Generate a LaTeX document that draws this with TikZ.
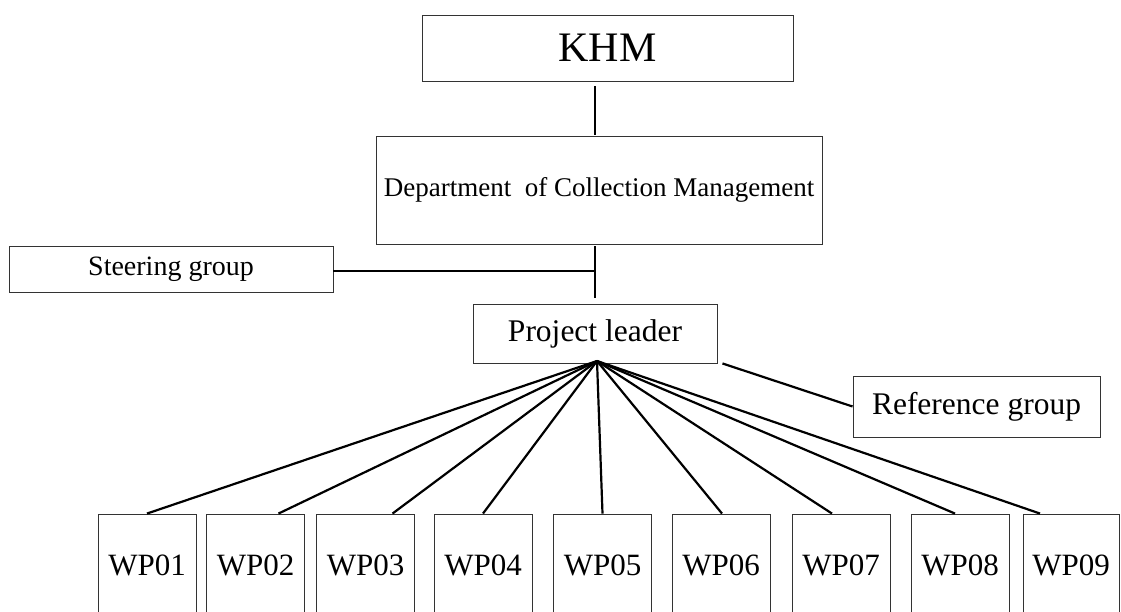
\documentclass[tikz,border=0pt]{standalone}
\usepackage{fontspec}
\setmainfont{Liberation Serif}
\begin{document}
\begin{tikzpicture}[x=1pt,y=-1pt,
  box/.style={draw=black!80,line width=0.9pt,inner sep=0pt,align=center},
  conn/.style={draw=black,line width=2.2pt},
  wpbox/.style={box,minimum width=98pt,minimum height=102pt,font=\fontsize{31}{34}\selectfont}]
\useasboundingbox (0,0) rectangle (1121,611);
\clip (0,0) rectangle (1121,611);
\node[box,minimum width=371pt,minimum height=66pt,font=\fontsize{42}{46}\selectfont] (khm) at (607.5,48) {KHM};
\node[box,minimum width=446pt,minimum height=108pt,font=\fontsize{27}{31}\selectfont] (dept) at (599,190) {Department\ \ of Collection Management};
\node[box,minimum width=324pt,minimum height=46pt,font=\fontsize{28}{31}\selectfont] (steer) at (171,269) {Steering group};
\node[box,minimum width=244pt,minimum height=59pt,font=\fontsize{31.5}{34}\selectfont] (pl) at (595,333.5) {Project leader};
\node[box,minimum width=247pt,minimum height=61pt,font=\fontsize{31.5}{34}\selectfont] (ref) at (976.5,406.5) {Reference group};
\node[wpbox] (wp1) at (147,565) {WP01};
\node[wpbox] (wp2) at (255.5,565) {WP02};
\node[wpbox] (wp3) at (365.5,565) {WP03};
\node[wpbox] (wp4) at (483,565) {WP04};
\node[wpbox] (wp5) at (602.5,565) {WP05};
\node[wpbox] (wp6) at (721,565) {WP06};
\node[wpbox] (wp7) at (841,565) {WP07};
\node[wpbox] (wp8) at (960,565) {WP08};
\node[wpbox,minimum width=96pt] (wp9) at (1071,565) {WP09};
\coordinate (sp) at (595,0);
\coordinate (hub) at (597,361);
\draw[conn] ([yshift=-5pt]khm.south -| sp) -- ([yshift=1pt]dept.north -| sp);
\draw[conn] ([yshift=-2pt]dept.south -| sp) -- ([yshift=6pt]pl.north -| sp);
\draw[conn] ([yshift=-2pt]steer.east) -- ([yshift=-2pt]steer.east -| sp);
\draw[conn] ([xshift=5pt]pl.south east) -- (ref.west);
\draw[conn] (hub) -- (wp1.north);
\draw[conn] (hub) -- ([xshift=23pt]wp2.north);
\draw[conn] (hub) -- ([xshift=27pt]wp3.north);
\draw[conn] (hub) -- (wp4.north);
\draw[conn] (hub) -- (wp5.north);
\draw[conn] (hub) -- ([xshift=1pt]wp6.north);
\draw[conn] (hub) -- ([xshift=-9pt]wp7.north);
\draw[conn] (hub) -- ([xshift=-5pt]wp8.north);
\draw[conn] (hub) -- ([xshift=-31pt]wp9.north);
\end{tikzpicture}
\end{document}
